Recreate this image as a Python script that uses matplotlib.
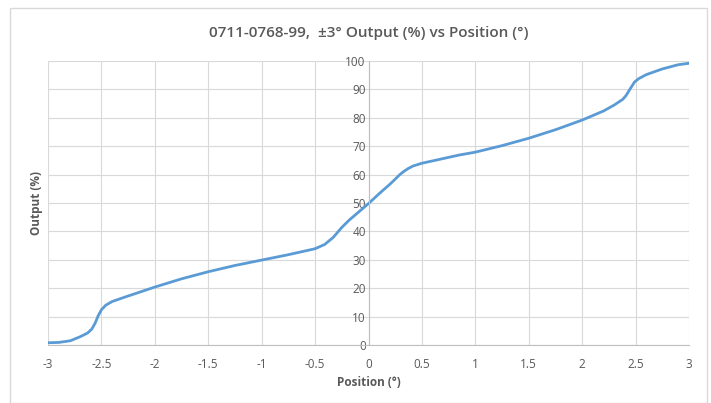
import matplotlib.pyplot as plt
from matplotlib.patches import Rectangle

# position (deg) and output (%)
position = [-3.0, -2.9, -2.79, -2.7, -2.63, -2.59, -2.56, -2.53, -2.5, -2.46, -2.4, -2.27,
            -2.0, -1.75, -1.5, -1.25, -1.0, -0.75, -0.5, -0.41, -0.33, -0.25, -0.18,
            0.0, 0.1, 0.2, 0.25, 0.29, 0.33, 0.37, 0.415, 0.5, 0.85, 1.0, 1.25, 1.5, 1.75, 2.0,
            2.2, 2.3, 2.38, 2.41, 2.456, 2.49, 2.53, 2.6, 2.75, 2.9, 3.0]
output = [0.8, 0.9, 1.5, 2.9, 4.2, 5.6, 7.6, 10.3, 12.4, 14.0, 15.3, 17.0,
          20.4, 23.3, 25.8, 28.0, 29.9, 31.8, 33.9, 35.4, 37.9, 41.4, 44.0,
          49.8, 53.3, 56.6, 58.4, 59.9, 61.1, 62.1, 63.0, 64.0, 66.9, 67.9, 70.2, 72.8, 75.8, 79.2,
          82.4, 84.5, 86.5, 87.8, 90.6, 92.6, 93.8, 95.2, 97.2, 98.7, 99.2]

xticks = [-3, -2.5, -2, -1.5, -1, -0.5, 0, 0.5, 1, 1.5, 2, 2.5, 3]
yticks = list(range(0, 101, 10))

plt.rcParams['font.family'] = ['Open Sans', 'DejaVu Sans']

fig = plt.figure(figsize=(7.11, 4.03), dpi=100)
ax = fig.add_axes([48 / 711, 1 - 345 / 403, 641 / 711, 284 / 403])

ax.plot(position, output, color='#5b9bd5', linewidth=2)

ax.set_xlim(-3, 3)
ax.set_ylim(0, 100)
ax.set_xticks(xticks)
ax.set_xticklabels([('%g' % v) for v in xticks])
ax.set_yticks(yticks)
ax.grid(True, color='#d9d9d9', linewidth=0.8)
ax.set_axisbelow(True)

for s in ['top', 'right']:
    ax.spines[s].set_visible(False)
ax.spines['left'].set_position(('data', 0))
ax.spines['left'].set_color('#bfbfbf')
ax.spines['bottom'].set_color('#bfbfbf')
ax.tick_params(axis='both', length=0, labelsize=8.5, colors='#595959')
ax.tick_params(axis='x', pad=9)
ax.tick_params(axis='y', pad=2)

ax.set_title('0711-0768-99,  \u00b13\u00b0 Output (%) vs Position (\u00b0)',
             fontsize=11, color='#595959', fontweight='semibold', pad=17)
ax.set_xlabel('Position (\u00b0)', fontsize=8.5, color='#595959', fontweight='bold', labelpad=4)
ax.set_ylabel('Output (%)', fontsize=8.5, color='#595959', fontweight='bold')
ax.yaxis.set_label_coords(-0.008, 0.5)

fig.patches.append(Rectangle((10 / 711, 0), 697 / 711, 1 - 8 / 403, transform=fig.transFigure,
                             fill=False, edgecolor='#d9d9d9', linewidth=1))

fig.savefig('out.png', dpi=100)
